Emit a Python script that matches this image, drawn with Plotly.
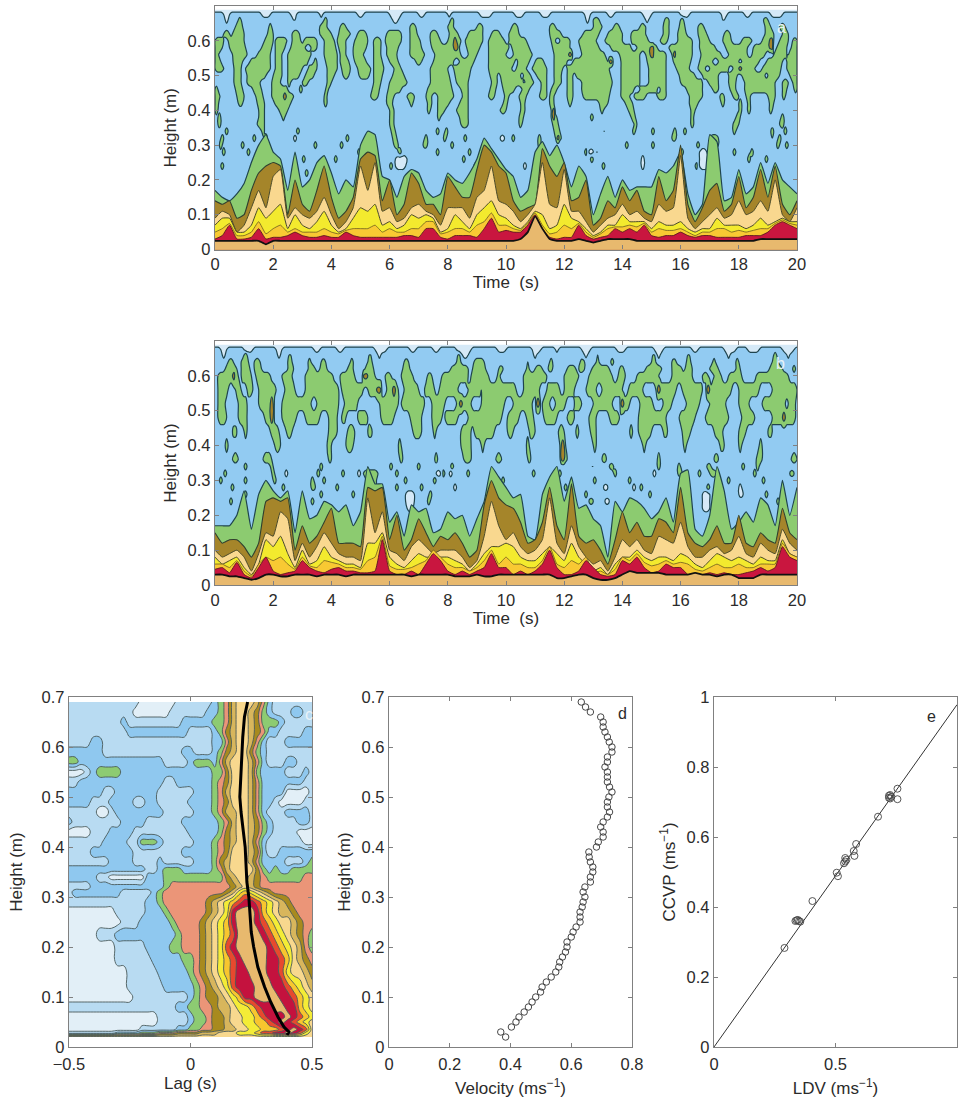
import numpy as np
import plotly.graph_objects as go

W, H = 958, 1100

# ---------- panels a, b: band tops (cm), one value each 0.25 s
T = [i * 0.25 for i in range(81)]
a_green = [17,15,14,16,19,25,30,33,28,26,17,28,18,20,25,27,22,16,20,18,
           30,34,33,21,20,15,21,23,22,17,15,16,22,20,19,22,26,32,29,26,
           23,21,15,17,28,31,27,30,25,18,24,21,10,16,21,15,20,17,18,18,
           18,23,22,24,28,16,10,13,33,31,14,15,23,16,18,25,19,25,20,18,16]
a_olive = [14,13,14,9,10,17,22,24,25,24,10,20,13,11,17,24,15,9,11,15,
           26,28,27,14,20,10,13,22,19,13,13,10,21,18,15,15,23,30,28,24,
           22,14,11,12,13,29,24,21,25,14,15,20,7,9,14,12,18,14,17,11,
           10,21,14,17,30,13,8,12,17,19,11,13,21,12,15,23,15,24,13,10,14]
a_peach = [9,11,10,5,7,12,17,12,21,23,9,12,10,9,11,15,10,6,8,12,
           24,17,25,11,12,8,9,12,13,11,10,7,12,12,12,9,15,17,24,14,
           13,11,8,10,13,25,13,12,23,11,11,8,5,7,9,10,13,10,11,9,
           8,13,11,12,27,9,6,8,10,12,9,10,14,10,11,14,11,20,10,8,12]
a_yellow = [7,9,9,5,5,7,12,9,11,13,6,10,7,6,8,11,7,5,6,9,
            12,11,13,7,8,6,7,10,9,10,9,5,6,10,8,6,10,12,14,10,
            9,7,6,8,11,10,6,7,13,9,8,6,4,5,7,7,10,8,8,8,
            6,8,7,7,8,6,5,6,6,9,7,7,7,6,7,9,7,8,9,8,8]
a_gold = [5,6,7.5,4,4,5,8,4.5,6,7,5,6,5,5,5,6,5,4.5,5.5,6,
          6,6,7,5,6,5,5,6,6,8,8,4.5,5,6,6,5,7,8,10.5,7,
          7,6,5.5,7.5,10.5,7,4.5,5,7,6,7.5,5,3.5,4.5,6,6.5,6.5,7,6.5,7.5,
          5,6,5.5,5.5,6,5,4,5,5,6,6,5,5.5,5,5.5,6,6,7.5,8.5,7.5,7]
a_red = [3,4,7,3,3,3.5,6,3,3.5,3.5,4,5,4,3.5,3.5,4,3.5,3.5,5,4,
         3.5,3.5,3.5,3.5,3.5,3.5,4,4,3.5,6,6,3.5,3,4,4,4,3.5,6,9,5,
         5.5,5,5,7,10,6,3.5,3,3.5,3.5,7,4,3,3.5,4,6,5,6,5,7,
         4,3.5,4,4,5,4,3.5,4,4,3.5,3.5,3.5,3.5,4,4,4,5,7,8,7,6]
a_tan = [2.5,2.5,2.5,2.5,2.5,2.5,2.5,1.5,2.5,2.5,2.5,2.5,2.5,2.5,2.5,2.5,2.5,2.5,2.5,2.5,
         2.5,2.5,2.5,2.5,2.5,2.5,2.5,2.5,2.5,2.5,2.5,2.5,2.5,2.5,2.5,2.5,2.5,2.5,2.5,2.5,
         2.5,2.5,3,5,9.5,6,3,2.5,2.5,2.5,3,2.5,2,2.5,3,3,3,3,2.5,2.5,
         2.5,2.5,2.5,2.5,2.5,2.5,2.5,2.5,2.5,2.5,2.5,2.5,2.5,2.5,2.5,3,3,3,3,3,3]

b_green = [17,17,17,20,27,16,26,30,27,25,27,15,27,19,20,24,23,21,23,17,
           21,34,29,29,18,21,14,23,21,22,15,16,21,19,20,14,19,24,34,31,
           28,25,26,14,13,26,31,34,24,31,22,23,19,17,8,24,21,25,24,22,
           19,21,25,18,32,33,16,14,20,34,27,16,18,21,18,25,23,17,30,20,28]
b_olive = [15,12,13,13,11,8,12,24,25,24,25,10,17,12,14,18,22,12,12,12,
           11,28,27,28,13,20,10,13,19,15,11,14,13,15,12,8,10,23,30,25,
           23,22,18,12,13,18,28,17,13,29,14,12,13,10,6,13,21,15,18,14,
           14,19,18,15,28,15,12,11,13,17,12,12,20,12,11,15,13,12,22,15,13]
b_peach = [10,8,9,10,8,4,9,15,14,21,19,7,12,8,11,15,12,9,8,8,
           7,25,15,21,10,9,7,11,13,11,9,10,10,10,8,5,7,14,24,17,
           13,15,11,9,10,13,25,12,9,17,11,8,6,7,4,8,13,11,13,10,
           9,14,13,12,18,11,8,8,10,11,9,10,14,9,8,12,10,9,16,12,10]
b_yellow = [8,6,7,8,5,3,6,13,11,14,9,5,10,6,7,11,8,7,6,6,
            5,12,12,15,8,6,5,7,9,8,8,8,8,7,6,4,6,9,11,11,
            12,11,8,7,7,9,11,9,7,12,8,6,4,5,3,6,8,8,10,8,
            7,8,8,7,9,8,6,5,7,9,8,7,8,7,6,8,7,7,13,9,8]
b_gold = [6,6,5,7,4,2.5,6,8,7,8,6,4.5,8,5.5,5,7,6.5,6,5,5,
          4.5,7,8,14,5.5,4.5,4.5,5,6,7,10,8,6,5,5,4,5,7,10,6,
          8,6,6,5,5,7,11,6,5,7,6,8,3.5,4,3,4.5,8,7,9,6.5,
          5.5,6,7,6,6.5,6,4.5,4,5,6,5,5,6,5,5,6,6,6,12,9,8]
b_red = [4.5,5,3.5,6.5,3,2,5,8,4,3,3.5,4,7,5,4,3.5,4.5,5,4,4,
         3.5,3.5,4,13,4,3,3,4,3,6,9,7,4,3,4,3,4,5,9,5,
         5,3,4,3,4,6,10,5,3,3,4,7,5,3,2.5,3,7,6,8,5,
         3.5,4,6,5,5,3,3,3,3.5,3,3.5,3,3,3.5,4,5,4,5,11,8,7]
b_tan = [3,3,2.5,2.5,2,1.5,2,3,3,2.5,2.5,3,3,3,2.5,3,3,3,2.5,3,
         3,3,3,3,3,3,3,2.5,3,3,3,3,3,2.5,2.5,2.5,3,2.5,2.5,3,
         3,3,3,3,3,3,3,2,2,2.5,3,3,2,1.5,1.5,2,3,4,3.5,3.5,
         3.5,3.5,3,3,3,3,3.5,3,3,2.5,3,3,2,2,2,3,3,3,3,3,3]

# ---------- panels a, b: time spans (s) of each patch, per height (m)
a_green_spans = {
.66: [(.8,.9),(3.75,3.85),(8.1,8.2),(13.0,13.2),(15.45,15.6),(16.0,16.1),(18.85,19.0)],
.64: [(.7,.95),(1.85,1.95),(3.6,3.85),(4.3,4.5),(6.7,6.9),(8,8.2),(9,9.2),(10.2,10.4),(11.5,11.7),(13,13.3),(13.7,13.9),(14.6,14.8),(15.4,15.6),(15.95,16.15),(16.6,16.8),(18.9,19.1),(19.4,19.6)],
.62: [(.3,.5),(.6,1),(1.8,2),(2.65,2.9),(3.6,4),(4.25,4.65),(4.9,5.2),(5.9,6.4),(6.7,6.95),(7.4,7.65),(8.05,8.35),(8.7,9.2),(9.5,9.8),(10.1,10.45),(11.5,11.9),(12.65,13.2),(13.5,14),(14.3,14.8),(15.4,15.6),(15.9,16.2),(16.6,16.9),(17.5,17.7),(18.9,19.2),(19.5,19.7)],
.60: [(0,.3),(.45,1),(1.7,2),(2.07,2.47),(2.65,2.95),(3.05,3.5),(3.75,4.1),(4.2,4.5),(4.8,5.25),(5.45,5.7),(5.85,6.4),(6.7,7.05),(7.4,7.75),(8,8.45),(8.6,9.2),(9.4,9.95),(10.1,10.7),(11.55,11.7),(11.85,12.2),(12.5,13.1),(13.4,14),(14.3,14.9),(15.3,15.55),(15.9,16.4),(16.65,17),(17.45,17.75),(18.1,18.45),(18.8,19.2),(19.4,19.7),(19.85,20)],
.58: [(0,.25),(.5,1.05),(1.6,1.95),(2.07,2.4),(2.6,3.1),(3.3,3.5),(3.75,4.15),(4.25,4.5),(4.75,5.2),(5.45,5.7),(5.9,6.3),(6.7,7.1),(7.45,8.4),(8.65,9.1),(9.4,10.1),(10.2,10.8),(11.6,12.2),(12.55,13.2),(13.6,14.3),(14.5,15.2),(15.6,16.4),(16.65,17.2),(17.55,18.3),(18.5,19.1),(19.3,19.65),(19.8,20)],
.56: [(0,.12),(.6,1.1),(1.45,1.9),(2.07,2.3),(2.5,3.3),(3.75,4.2),(4.3,4.5),(4.75,5.1),(5.45,5.7),(5.9,6.25),(6.7,7.2),(7.55,8.45),(8.7,9),(9.4,10),(10.25,10.9),(11.65,12.25),(12.6,13.4),(13.9,14.6),(14.8,15.5),(15.7,16.4),(16.7,17.4),(17.65,18.3),(18.45,18.9),(19.2,19.65),(19.7,20)],
.54: [(0,.2),(.62,.95),(1.2,1.9),(2.07,2.3),(2.5,3.2),(3.4,3.5),(3.8,4.2),(4.3,4.6),(4.8,5.2),(5.45,5.75),(6,6.3),(6.9,7.1),(7.5,8.2),(8.4,8.9),(9.4,10.3),(10.4,10.8),(11,11.3),(11.65,12.1),(12.3,13.5),(13.95,14.6),(14.85,15.5),(15.75,16.35),(16.65,17.1),(17.3,18),(18.1,18.7),(18.95,19.5),(19.65,20)],
.52: [(0,.3),(.65,.9),(1.05,1.9),(2.07,2.3),(2.5,3),(3.2,3.5),(3.85,4.2),(4.35,4.65),(4.9,5.35),(5.45,5.8),(6.15,6.4),(7.4,8),(8.2,8.8),(9.4,10.2),(10.35,10.7),(10.9,11.4),(11.65,11.95),(12.1,13.55),(13.95,14.6),(14.9,15.5),(15.85,16.3),(16.6,16.85),(17,17.65),(17.8,18.55),(18.8,19.45),(19.65,20)],
.50: [(.65,.9),(1.1,1.75),(2,2.3),(2.5,2.9),(3.1,3.4),(3.85,4.1),(4.4,4.6),(4.95,5.3),(5.45,5.75),(6.1,6.5),(7.4,8.05),(8.25,8.75),(9.45,9.7),(9.8,10.5),(10.6,10.85),(11.05,11.4),(11.65,11.9),(12.1,12.3),(12.4,13.6),(13.95,14.6),(14.9,15.5),(15.95,16.5),(16.75,17.3),(17.65,17.95),(18.1,18.9),(19,19.4),(19.75,20)],
.48: [(.65,.9),(1.1,1.55),(1.95,2.25),(2.5,2.6),(3,3.2),(3.85,4),(5.45,5.7),(6,6.6),(7.4,8.1),(8.3,8.7),(9.5,9.7),(9.85,10.6),(10.65,10.95),(11.2,11.4),(11.65,11.9),(12.1,12.3),(12.6,13.65),(13.95,14.6),(14.9,15.5),(16,16.75),(16.95,17.3),(17.65,17.9),(18.2,19.25),(19.5,19.7),(19.85,20)],
.46: [(0,.1),(.7,.95),(1.3,1.6),(1.95,2.5),(2.9,3),(3.8,3.9),(5.4,5.65),(5.95,6.4),(7.3,8.15),(8.45,8.7),(9.45,9.65),(9.9,10.3),(10.55,10.8),(11.2,11.4),(11.55,11.75),(12.1,12.3),(12.6,13.6),(13.95,14.4),(14.6,15.2),(15.3,15.5),(16.2,16.75),(17.1,17.3),(17.7,17.9),(18.2,19.25),(19.5,19.65),(19.9,20)],
.44: [(0,.17),(.75,1),(1.4,1.65),(1.95,2.7),(3.75,3.85),(5.35,5.6),(5.9,6.15),(6.6,6.85),(7.25,7.45),(7.65,8.2),(8.5,8.7),(9.4,9.6),(9.95,10.1),(10.45,10.7),(11.15,11.4),(11.5,11.65),(12.1,12.3),(12.65,13.55),(13.95,14.25),(14.4,14.8),(15.2,15.5),(16.3,16.75),(17.35,17.5),(17.8,18),(18.25,18.4),(19,19.25),(19.5,19.6)],
.42: [(0,.12),(.8,.95),(1.45,1.7),(2.05,2.6),(3.75,3.85),(5.9,6.1),(6.7,6.8),(7.3,7.45),(7.65,8.05),(8.4,8.7),(9.9,10.05),(10.5,10.65),(11.5,11.65),(12.15,12.25),(13.2,13.5),(14.1,14.35),(16.3,16.6),(17.4,17.5),(18,18.1),(18.3,18.4),(19.05,19.2)],
.40: [(0,.1),(1.5,1.7),(2.2,2.5),(6,6.15),(7.3,7.4),(7.65,7.9),(8.3,8.7),(9.8,10),(10.5,10.65),(11.55,11.65),(13.25,13.35),(14.2,14.4),(16.35,16.5),(18.0,18.1),(18.3,18.4),(19.05,19.15)],
.38: [(.1,.2),(1.5,1.7),(2.3,2.4),(6,6.15),(7.65,7.75),(8.4,8.7),(10.45,10.6),(11.55,11.75),(12.9,13),(14.3,14.45),(16.35,16.45),(17.9,18.05),(19.45,19.55)],
.36: [(.1,.2),(1.45,1.7),(6,6.15),(8.45,8.7),(10.45,10.55),(11.6,11.8),(14.4,14.5),(16.35,16.45),(17.8,18),(19.4,19.55)],
.34: [(.35,.45),(1.6,1.7),(2.8,2.9),(3.7,3.75),(6.05,6.2),(7.6,7.7),(7.9,8),(11.65,11.85),(13.35,13.4),(14.35,14.45),(15,15.1),(15.75,15.85),(16.1,16.2),(17.8,17.9),(19.1,19.2),(19.55,19.65)],
.32: [(.2,.3),(1.3,1.4),(1.7,1.8),(2.6,2.7),(4.5,4.6),(6.1,6.25),(7.2,7.3),(7.85,7.95),(8.55,8.65),(10.2,10.3),(11.1,11.2),(11.7,11.9),(13.5,13.55),(15.7,15.85),(17,17.3),(19.1,19.15),(19.35,19.45)],
.30: [(.15,.25),(.9,1),(3.4,3.5),(4.3,4.4),(6.15,6.3),(7.15,7.3),(8.1,8.2),(11.1,11.2),(14.1,14.2),(15,15.1),(16.55,16.65),(17.1,17.3),(19.3,19.4),(19.6,19.7)],
.28: [(.25,.35),(1.1,1.2),(4.9,5),(6.3,6.4),(7.6,7.7),(8.7,8.8),(11.2,11.3),(12.7,12.8),(13.1,13.15),(16,16.1),(17.8,17.9),(18.4,18.5)],
.26: [(3,3.1),(4.1,4.2),(5.1,5.2),(8.5,8.6),(12.9,13),(13.5,13.55),(18.3,18.4),(18.9,19)],
.24: [(.2,.3),(5.2,5.3),(6,6.1),(8.9,9),(13.3,13.4),(16.5,16.6)],
.22: [(3.1,3.2),(5.6,5.7),(11,11.1)],
}
a_pale_spans = {
.675: [(.3,.5),(1.6,1.9),(2.6,2.8),(3.6,3.7),(4.9,5.1),(6,6.4),(7,7.2),(8,8.1),(9.1,9.5),(10.3,10.6),(11.2,11.5),(12.7,12.9),(13.5,13.7),(14.7,15),(16,16.3),(17.4,17.6),(18.2,18.4),(19.1,19.5)],
.66: [(.35,.45),(2.7,2.75),(6.1,6.3),(14.8,14.9),(17.45,17.5),(12.75,12.85)],
.32: [(2.7,2.8),(9.8,9.95)],
.28: [(12.85,13),(16.65,16.9)],
.26: [(6.2,6.6),(16.65,16.95),(14.65,14.75)],
.24: [(6.2,6.55),(16.65,16.95),(14.65,14.75),(10.6,10.7)],
}
a_dot_spans = {
.60: [(19.05,19.2),(8.2,8.3)],
.58: [(8.2,8.35),(19.05,19.2),(14.95,15.1)],
.56: [(12.15,12.25),(14.95,15.1),(15.75,15.85)],
.54: [(13.55,13.65)],
.52: [(18,18.1)],
.44: [(2.35,2.45)],
.40: [(11.6,11.7)],
.38: [(11.6,11.7)],
.32: [(11.75,11.85)],
}
b_green_spans = {
.66: [(1,1.1),(2.55,2.6),(5.3,5.35),(8.35,8.4),(13.15,13.2),(15.05,15.1),(16.25,16.3),(19.2,19.3)],
.64: [(.45,.63),(.9,1.15),(1.35,1.55),(2.5,2.65),(3.2,3.3),(3.65,3.8),(4.65,4.75),(5.25,5.4),(6.5,6.65),(8.3,8.45),(8.9,9.25),(10.75,10.8),(11.5,11.6),(12.55,12.7),(13.1,13.2),(13.6,13.7),(15,15.15),(15.7,15.85),(16.2,16.35),(17.1,17.2),(17.9,18),(19.15,19.35)],
.62: [(.35,.75),(.9,1.2),(1.35,1.6),(2.5,2.7),(3.2,3.45),(3.6,3.85),(4.55,4.75),(5.15,5.45),(6.45,6.7),(8.1,8.7),(8.85,9.3),(9.75,9.9),(10.7,10.8),(11,11.25),(11.45,11.6),(12.1,12.4),(12.5,12.7),(12.95,13.55),(13.9,14.05),(14.8,15.35),(15.7,16.05),(16.15,16.4),(17,17.3),(17.9,18.05),(19.05,19.5),(19.85,19.95)],
.60: [(.1,.8),(.9,1.25),(1.4,1.9),(2.3,2.65),(3.1,4.05),(4.3,4.8),(5.1,5.5),(5.85,6.05),(6.4,6.8),(7.3,7.45),(7.8,8.7),(8.8,9.4),(9.7,9.8),(10.6,11.4),(12,12.5),(12.85,13.65),(13.85,14.1),(14.5,15.25),(15.7,16.4),(16.75,16.95),(17.15,17.4),(17.65,18.1),(18.6,19.7)],
.56: [(.1,.45),(.7,.9),(1.1,1.3),(1.5,2.1),(2.4,2.75),(3.1,4.25),(4.35,5.1),(5.25,5.6),(5.9,6.3),(6.5,7),(7.2,7.55),(7.7,8.35),(8.7,9.15),(9.2,10.35),(10.6,11.15),(11.4,11.85),(12,12.35),(12.75,13.1),(13.3,14),(14.2,14.7),(15.15,15.85),(16.05,16.75),(17,17.75),(18,18.7),(19.15,20)],
.52: [(.1,.35),(.8,1.1),(1.5,2),(2.3,3.3),(3.5,4.25),(4.45,4.9),(5.65,6.3),(6.4,7.2),(7.45,7.9),(8.3,8.8),(9.15,9.95),(10.25,10.9),(11.25,11.5),(11.7,12.05),(12.35,12.6),(13,13.65),(14,14.25),(14.6,15.05),(15.4,15.7),(16.2,16.65),(17,17.55),(18,18.35),(18.8,19.6),(19.7,19.95)],
.48: [(.1,.4),(.8,1.1),(1.7,2),(2.3,2.8),(3.1,3.6),(3.9,4.2),(4.35,4.5),(4.9,5.25),(5.7,6.15),(6.7,7.1),(7.45,7.8),(7.9,8.35),(8.7,9.85),(10.05,10.45),(10.7,10.95),(11.3,11.75),(12.1,12.35),(12.85,13.1),(13.55,13.9),(14.55,15.5),(15.95,16.5),(16.85,17.65),(18.1,18.55),(19.15,19.95)],
.44: [(.6,.75),(1,1.1),(1.9,2.2),(2.45,2.65),(3.9,4.2),(4.55,4.8),(5.25,5.4),(6.8,7.1),(7.5,7.6),(8.45,8.8),(8.9,9.6),(10.05,10.25),(10.8,11),(11.8,12),(12.4,12.5),(12.9,13.1),(14.25,14.35),(14.55,15),(15.4,15.55),(16.05,16.35),(17.15,17.45),(18,18.25),(19,19.15)],
.40: [(.35,.45),(2.05,2.25),(3.85,4),(4.5,4.75),(6.3,6.4),(8.45,8.8),(9.15,9.25),(10.7,10.8),(11.85,12.05),(13,13.1),(14.7,14.8),(16.1,16.2),(17.35,17.5),(18,18.1),(18.7,18.8)],
.36: [(.6,.8),(1.65,1.95),(3.9,4),(6.35,6.45),(7.55,7.65),(8.55,8.8),(9.65,9.85),(10.75,10.85),(11.9,12.1),(13.3,13.45),(15.2,15.3),(17.15,17.3),(18.6,18.8),(19.8,20)],
.34: [(1,1.1),(1.9,2),(3,3.05),(3.6,3.7),(6,6.1),(6.95,7.05),(8.1,8.2),(12.95,13),(13.55,13.7),(15.2,15.3),(15.9,16),(16.9,17.05),(18.1,18.2),(18.6,18.7)],
.32: [(.3,.4),(1.95,2.05),(3.5,3.6),(4.35,4.45),(5.1,5.6),(6.2,6.3),(7.8,7.9),(8.65,8.75),(10.9,11),(11.8,11.9),(13.7,13.8),(15.9,16.05),(16.6,16.7),(17,17.25),(18.5,18.6),(19.75,19.9)],
.30: [(.15,.25),(1,1.1),(2,2.1),(3.3,3.4),(3.7,3.8),(5.2,5.55),(6.5,6.6),(7.5,7.6),(9.85,9.95),(11.6,11.7),(13,13.1),(14.2,14.3),(16.2,16.3),(17.6,17.7),(18.8,18.9)],
.28: [(.55,.65),(2.3,2.4),(3.3,3.45),(4.15,4.25),(5.45,5.55),(6.2,6.3),(7.05,7.15),(8.1,8.2),(12,12.1),(13.4,13.5),(14.6,14.7),(16.9,17)],
.26: [(1,1.1),(3.6,3.7),(4.7,4.8),(7.35,7.45),(12.7,12.8),(14.9,15),(17.4,17.5),(18.9,19)],
.24: [(.5,.6),(3.3,3.4),(7.3,7.4),(12.85,13),(13.5,13.6),(19.3,19.4)],
}
b_pale_spans = {
.675: [(.2,.4),(1,1.3),(2.1,2.3),(3.4,3.6),(4.2,4.4),(5.5,5.9),(6.7,6.9),(7.5,7.7),(8.3,8.8),(9.7,10),(10.9,11.2),(11.7,11.8),(12.6,12.9),(13.8,14.1),(15.1,15.4),(16.4,16.6),(17.5,17.9),(18.3,18.7),(19.5,19.9)],
.66: [(.25,.35),(2.15,2.25),(5.6,5.7),(8.5,8.7),(10.95,11.05),(12.7,12.8),(15.2,15.3),(17.6,17.7),(19.65,19.75)],
.32: [(2.4,2.5),(4.9,5),(7.6,7.75),(15.05,15.15),(8.05,8.15)],
.28: [(13.35,13.5),(18,18.1),(14.35,14.45),(8.2,8.3)],
.26: [(6.55,6.85),(16.75,17),(18,18.15)],
.24: [(6.55,6.85),(16.75,17),(13.4,13.55)],
.22: [(6.6,6.8),(16.75,17)],
}
b_dot_spans = {
.60: [(.6,.7),(5.1,5.25),(8.65,8.7)],
.56: [(5.55,5.7),(16.9,17),(15.2,15.3),(6.1,6.2)],
.52: [(1.9,2),(8.4,8.5),(11.05,11.15),(13.95,14.05)],
.48: [(1.9,2),(19.5,19.6)],
.40: [(11.9,12)],
.36: [(11.9,12)],
}

# ---------- panel c: correlation bands, lag every 0.025 s
LAGS = [round(-0.5 + 0.025 * j, 3) for j in range(41)]
c_heights = [.69,.67,.65,.63,.61,.59,.57,.55,.53,.51,.49,.47,.45,.43,.41,.39,.37,.355,.34,.32,.31,.29,
             .27,.25,.225,.20,.175,.15,.12,.10,.08,.06,.05,.035,.028,.02]
c_rows = [
"11111 11111 11000 00011 11112 34677 76421 11111 1",
"11111 11111 10000 00111 11122 34677 65321 11221 1",
"11111 11112 11111 11112 22223 34677 65333 21111 1",
"11111 11111 22222 22222 11112 35677 65422 11112 2",
"11112 21111 11111 11111 11112 24677 64211 12222 2",
"22222 21111 11111 11112 21112 35677 53211 11111 1",
"33222 22222 22222 21111 23332 46777 64211 12211 1",
"00012 33332 22222 22222 22223 35777 63222 21112 1",
"11222 22222 22222 21122 22223 45777 64222 22221 1",
"22222 21122 22222 11111 12223 46777 64222 20000 1",
"22221 11222 21122 11111 22223 45777 64221 00001 1",
"11111 00122 22222 21111 12223 46677 64211 12222 1",
"21111 11112 22211 11112 22222 34677 65321 11122 1",
"00001 11222 21111 11111 22222 35677 65321 11100 0",
"11111 12222 11333 21111 12223 45677 64211 11110 0",
"11112 22222 21111 11112 22223 45777 65211 22222 2",
"11111 11222 21111 21111 12223 56777 64222 21112 3",
"22222 22222 22211 23332 22223 46777 75323 22333 3",
"22222 11000 00022 23333 33333 35677 65433 33334 4",
"11112 22222 22222 23444 44444 44567 65444 44444 4",
"12222 22221 11112 34444 44444 45689 87654 44444 4",
"11111 11111 11122 34444 44456 789ab ba987 65444 4",
"00000 00011 11122 23444 44456 78bcc cb987 66544 4",
"00000 00001 11222 22344 44567 89bcc cba98 77654 4",
"00000 11122 22222 22234 44567 89acc ccba9 87654 3",
"00000 00011 11122 22334 44567 8abcc cccba 98764 3",
"00000 00011 11112 22223 34567 89abc cccbb a9765 4",
"00000 00000 11111 22222 34567 89abb cccbb a8776 5",
"00000 00000 11111 12222 23456 78abb bcccb ba987 6",
"00000 00000 01111 11111 23455 6789b bcccc bba98 7",
"11111 11111 11111 11122 33445 66788 9abbc cbb98 7",
"00000 00000 00000 11111 23345 56778 89abb bcba9 8",
"00000 00000 00000 11111 23345 56778 899ab cba98 7",
"00000 00000 00111 11122 33445 56677 88999 abcba 7",
"11111 11122 22333 44455 55666 77788 89aab bcba8 7",
"77777 77777 77777 77777 77777 77777 77777 77777 7",
]
ridge_h =   [.69,.66,.62,.56,.50,.47,.43,.40,.37,.33,.30,.27,.23,.20,.16,.12,.09,.06,.04,.03,.024]
ridge_lag = [.235,.222,.215,.208,.203,.208,.218,.225,.228,.232,.24,.243,.25,.26,.277,.305,.33,.36,.385,.405,.397]

# ---------- panel d
d_h = [round(0.69 - 0.01 * i, 2) for i in range(68)]
d_v = [.633,.647,.663,.697,.705,.705,.711,.719,.725,.734,.734,.719,.719,.711,.719,.719,.719,.726,.734,.724,
       .719,.719,.726,.719,.705,.697,.705,.705,.689,.683,.658,.659,.663,.671,.671,.663,.663,.645,.639,.645,
       .639,.636,.629,.629,.629,.616,.606,.60,.586,.586,.581,.571,.562,.559,.549,.534,.518,.504,.499,.483,
       .471,.459,.445,.428,.418,.403,.368,.384]

# ---------- panel e
e_ldv =  [.29,.335,.34,.345,.35,.355,.405,.505,.51,.535,.54,.54,.545,.575,.578,.585,.675,.72,.725,.73,.725,.72,.755,.755]
e_ccvp = [.283,.36,.362,.363,.36,.358,.417,.498,.488,.525,.53,.54,.535,.56,.546,.58,.658,.712,.72,.715,.71,.718,.738,.708]
fit_x = [0, 1]
fit_y = [0, 0.978]

# ---------- styles
INK = "#2b2b2b"
GREY = "#808080"
LINE = "#1f444e"
AB_COL = ["#D5E9F7", "#92CBF2", "#8CCB70", "#A5852A"]
C_COL = ["#E2EFF7", "#B8DBF2", "#8FC8EF", "#8DCB72", "#EB9578", "#A88A1E", "#D8B65C", "#F8D88E",
         "#F4EC36", "#F8C62E", "#E7492E", "#C4123E", "#E8B96E"]
BANDS = [("#8CCB70", LINE, 1.2), ("#A5852A", "#2f3f2f", 1.1), ("#F9D88F", "#4a4a2a", 1.0),
         ("#F3EA2E", "#4a4a2a", 1.0), ("#F8C933", "#6a5a20", 0.8), ("#C9163F", "#5a1a20", 0.9),
         ("#E8B96E", "#111111", 1.8)]
FINE_T = np.arange(401) * 0.05


def step_scale(cols):
    n = len(cols)
    s = []
    for i, c in enumerate(cols):
        s += [[i / n, c], [(i + 1) / n, c]]
    return s


def grid(rows):
    return [[int(ch, 36) for ch in r.replace(" ", "")] for r in rows]


def strength(spans):
    """+1 at a span's core, 0 on its edge, -1 away from it (so edges morph between rows)."""
    reach = 0.09
    out = -np.ones(FINE_T.size)
    for a, b in spans:
        inner = np.minimum(FINE_T - a, b - FINE_T)
        scale = min(reach, (b - a) / 2)
        f = np.where(inner >= 0, np.minimum(1, inner / scale), np.maximum(-1, inner / reach))
        out = np.maximum(out, f)
    return out


def span_field(green, pale, dots):
    hs = sorted(set(list(green) + list(pale) + list(dots) + [0.0, 0.20]))
    rows = []
    for h in hs:
        row = 1.5 + 0.5 * strength(green.get(h, []))
        if h in dots:
            f = strength(dots[h])
            row = np.where(f >= 0, np.maximum(row, 2.5 + 0.5 * f), row)
        if h in pale:
            f = strength(pale[h])
            row = np.where(f > -1, np.minimum(row, 0.5 - 0.5 * f), row)
        rows.append(row)
    hs.append(0.69)
    rows.append(np.zeros(FINE_T.size))
    return hs, np.array(rows)


def px_dom(a, b, total, flip=False):
    return [1 - b / total, 1 - a / total] if flip else [a / total, b / total]


fig = go.Figure()
layout = {}


def add_axes(n, xd, yd, xr, yr, xv, xt, yv, yt, xtitle, ytitle, xstand, ystand, tickpad=0):
    sx = "" if n == 1 else str(n)
    base = dict(showline=True, mirror="ticks", linecolor=GREY, linewidth=1.3, ticks="inside", ticklen=4,
                tickcolor=GREY, tickwidth=1, showgrid=False, zeroline=False, automargin=False,
                tickfont=dict(family="Liberation Sans", size=16.5, color=INK))
    layout["xaxis" + sx] = dict(base, domain=px_dom(*xd, W), range=xr, tickvals=xv, ticktext=xt, anchor="y" + sx,
                                ticklabelstandoff=tickpad,
                                title=dict(text=xtitle, standoff=xstand, font=dict(family="Liberation Sans", size=17, color=INK)))
    layout["yaxis" + sx] = dict(base, domain=px_dom(*yd, H, flip=True), range=yr, tickvals=yv, ticktext=yt, anchor="x" + sx,
                                title=dict(text=ytitle, standoff=ystand, font=dict(family="Liberation Sans", size=17, color=INK)))


def add_ab(n, spans, tops):
    sx = "" if n == 1 else str(n)
    hs, z = span_field(*spans)
    fig.add_trace(go.Contour(x=FINE_T, y=hs, z=z, xaxis="x" + sx, yaxis="y" + sx, showscale=False, zmin=-0.5, zmax=3.5,
                             colorscale=step_scale(AB_COL), autocontour=False,
                             contours=dict(start=0.5, end=2.5, size=1, coloring="fill"),
                             line=dict(color=LINE, width=1.2, smoothing=1), hoverinfo="skip"))
    for arr, (fill, lc, lw) in zip(tops, BANDS):
        fig.add_trace(go.Scatter(x=T, y=[v / 100 for v in arr], xaxis="x" + sx, yaxis="y" + sx, mode="lines",
                                 fill="tozeroy", fillcolor=fill, line=dict(color=lc, width=lw, shape="spline", smoothing=0.4),
                                 hoverinfo="skip", showlegend=False))


xv_t = list(range(0, 21, 2))
xt_t = [str(v) for v in xv_t]
yv_h = [0, .1, .2, .3, .4, .5, .6]
yt_h = ["0", "0.1", "0.2", "0.3", "0.4", "0.5", "0.6"]
yv_h7 = yv_h + [.7]
yt_h7 = yt_h + ["0.7"]

add_axes(1, (215, 797), (6, 249.5), [0, 20], [0, 0.7], xv_t, xt_t, yv_h, yt_h, "Time  (s)", "Height (m)", 3, 6)
add_ab(1, (a_green_spans, a_pale_spans, a_dot_spans), [a_green, a_olive, a_peach, a_yellow, a_gold, a_red, a_tan])
add_axes(2, (215, 797), (341, 585), [0, 20], [0, 0.7], xv_t, xt_t, yv_h, yt_h, "Time  (s)", "Height (m)", 3, 6)
add_ab(2, (b_green_spans, b_pale_spans, b_dot_spans), [b_green, b_olive, b_peach, b_yellow, b_gold, b_red, b_tan])

# panel c
add_axes(3, (69, 312), (697, 1047), [-0.5, 0.5], [0, 0.7], [-0.5, 0, 0.5], ["\u22120.5", "0", "0.5"], yv_h7, yt_h7,
         "Lag (s)", "Height (m)", 5, 14, tickpad=2)
fig.add_trace(go.Contour(x=LAGS, y=c_heights, z=grid(c_rows), xaxis="x3", yaxis="y3", showscale=False, zmin=-0.5, zmax=12.5,
                         colorscale=step_scale(C_COL), autocontour=False,
                         contours=dict(start=0.5, end=11.5, size=1, coloring="fill"),
                         line=dict(color="#4a5a5a", width=0.9, smoothing=1.2), hoverinfo="skip"))
fig.add_trace(go.Scatter(x=ridge_lag, y=ridge_h, xaxis="x3", yaxis="y3", mode="lines",
                         line=dict(color="#000000", width=3), hoverinfo="skip"))

# panel d
add_axes(4, (389, 632), (697, 1047), [0, 0.8], [0, 0.7], [0, .2, .4, .6, .8], ["0", "0.2", "0.4", "0.6", "0.8"], yv_h7, yt_h7,
         "Velocity (ms<sup>\u22121</sup>)", "Height (m)", 10, 6, tickpad=2)
fig.add_trace(go.Scatter(x=d_v, y=d_h, xaxis="x4", yaxis="y4", mode="markers",
                         marker=dict(symbol="circle-open", size=6.5, color="#333333", line=dict(width=0.9)), hoverinfo="skip"))

# panel e
add_axes(5, (714, 957), (697, 1047), [0, 1], [0, 1], [0, .5, 1], ["0", "0.5", "1"], [0, .2, .4, .6, .8, 1],
         ["0", "0.2", "0.4", "0.6", "0.8", "1"], "LDV (ms<sup>\u22121</sup>)", "CCVP (ms<sup>\u22121</sup>)", 10, 6, tickpad=2)
fig.add_trace(go.Scatter(x=fit_x, y=fit_y, xaxis="x5", yaxis="y5", mode="lines", line=dict(color="#333333", width=1), hoverinfo="skip"))
fig.add_trace(go.Scatter(x=e_ldv, y=e_ccvp, xaxis="x5", yaxis="y5", mode="markers",
                         marker=dict(symbol="circle-open", size=7, color="#444444", line=dict(width=0.9)), hoverinfo="skip"))

letters = [("a", 788, 17, "#E8F2F8"), ("b", 787, 353, "#E8F2F8"), ("c", 303, 714, "#E8F2F8"), ("d", 622, 713, INK), ("e", 938, 716, INK)]
annos = [dict(text=t, x=px / W, y=1 - py / H, xref="paper", yref="paper", showarrow=False,
              font=dict(family="Liberation Sans", size=16, color=c)) for t, px, py, c in letters]

fig.update_layout(width=W, height=H, autosize=False, margin=dict(l=0, r=0, t=0, b=0), paper_bgcolor="white",
                  plot_bgcolor="white", showlegend=False, annotations=annos, **layout)
fig.write_html("out.html", post_script="document.body.style.margin='0';", config=dict(displayModeBar=False))
